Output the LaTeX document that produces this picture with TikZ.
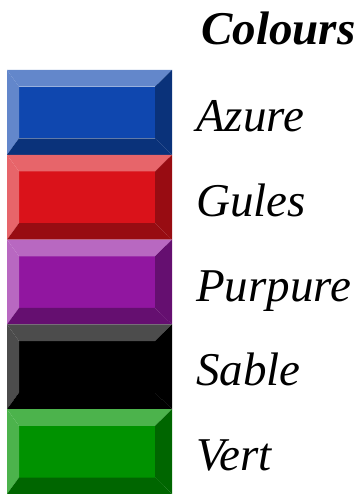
\documentclass[tikz,border=0pt]{standalone}
\usepackage{fontspec}
\setmainfont{Liberation Serif}
\definecolor{azure}{HTML}{0F47AF}
\definecolor{gules}{HTML}{DA121A}
\definecolor{purpure}{HTML}{9116A0}
\definecolor{sable}{HTML}{000000}
\definecolor{vert}{HTML}{009200}
\colorlet{sableLight}{black!70}
\begin{document}
\begin{tikzpicture}[x=1pt,y=-1pt,
  tinct/.style={anchor=base west,inner sep=0pt,font=\fontsize{47}{51}\selectfont\itshape},
  title/.style={anchor=base west,inner sep=0pt,font=\fontsize{47}{51}\selectfont\bfseries\itshape}]
\useasboundingbox (0,0) rectangle (360,494);
\node[title] (title) at (201,45) {Colours};
\foreach \c/\name/\lt/\dk [count=\i from 0] in
  {azure/Azure/azure!65!white/azure!70!black,
   gules/Gules/gules!65!white/gules!70!black,
   purpure/Purpure/purpure!65!white/purpure!70!black,
   sable/Sable/sableLight/black,
   vert/Vert/vert!70!white/vert!70!black}{
  \pgfmathsetmacro{\t}{70+84.8*\i}
  \pgfmathsetmacro{\b}{\t+84.8}
  \pgfmathsetmacro{\it}{\t+16.7}
  \pgfmathsetmacro{\ib}{\t+68.3}
  \fill[\c] (19,\it) rectangle (155,\ib);
  \fill[\lt] (7,\t) -- (172,\t) -- (155,\it) -- (19,\it) -- cycle;
  \fill[\lt] (7,\t) -- (19,\it) -- (19,\ib) -- (7,\b) -- cycle;
  \fill[\dk] (172,\t) -- (172,\b) -- (155,\ib) -- (155,\it) -- cycle;
  \fill[\dk] (7,\b) -- (172,\b) -- (155,\ib) -- (19,\ib) -- cycle;
  \pgfmathsetmacro{\bl}{132+84.5*\i}
  \node[tinct] (lab\i) at (196,\bl) {\name};
}
\end{tikzpicture}
\end{document}
